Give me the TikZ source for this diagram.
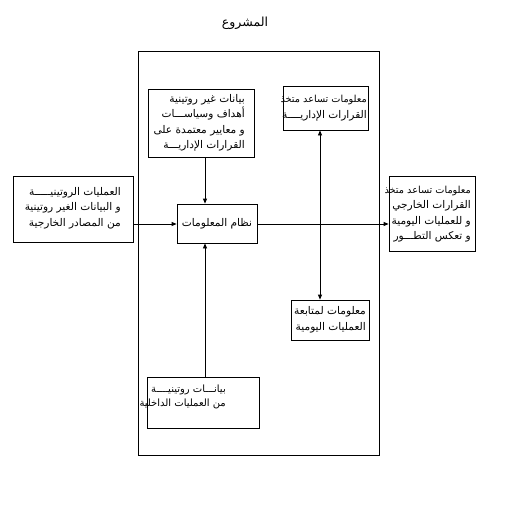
\documentclass[tikz,border=0pt]{standalone}
\usepackage{fontspec}
\newfontfamily\arabicfont[Script=Arabic]{DejaVu Sans}
\TeXXeTstate=1
\newcommand{\ar}[1]{{\arabicfont\beginR #1\endR}}
\newcommand{\arsm}[1]{{\fontsize{9.7}{15.5}\arabicfont\beginR #1\endR}}
\usetikzlibrary{arrows.meta}
\begin{document}
\begin{tikzpicture}[x=1pt,y=-1pt,
  box/.style={draw,line width=0.8pt,inner sep=0pt},
  txt/.style={font=\fontsize{10.6}{15.5}\arabicfont,align=right,anchor=east,inner sep=0pt},
  arr/.style={line width=0.8pt,-{Triangle[length=5pt,width=4pt]}}]
\useasboundingbox (0,0) rectangle (518,511);
\node[font=\fontsize{12.5}{14}\arabicfont] (title) at (245,23) {\ar{المشروع}};
\draw[line width=0.8pt] (138,51) rectangle (379,455);
% boxes
\node[box,minimum width=106pt,minimum height=68pt] (A) at (201,123) {};
\node[txt] (At) at (245,123) {\ar{بيانات غير روتينية}\\\ar{أهداف وسياســـات}\\\ar{و معايير معتمدة على}\\\ar{القرارات الإداريـــة}};
\node[box,minimum width=85pt,minimum height=44pt] (B) at (325.5,108) {};
\node[txt] (Bt) at (367,108) {\arsm{معلومات تساعد متخذ}\\\ar{القرارات الإداريــــة}};
\node[box,minimum width=120pt,minimum height=66pt] (L) at (73,209) {};
\node[txt] (Lt) at (121,208) {\ar{العمليات الروتينيـــــة}\\\ar{و البيانات الغير روتينية}\\\ar{من المصادر الخارجية}};
\node[box,minimum width=80pt,minimum height=39pt] (C) at (217,223.5) {};
\node[txt,anchor=center] (Ct) at (C.center) {\ar{نظام المعلومات}};
\node[box,minimum width=86pt,minimum height=75pt] (R) at (432,213.5) {};
\node[txt] (Rt) at (471,214) {\arsm{معلومات تساعد متخذ}\\\ar{القرارات الخارجي}\\\ar{و للعمليات اليومية}\\\ar{و تعكس التطـــور}};
\node[box,minimum width=78pt,minimum height=40pt] (D) at (330,320) {};
\node[txt] (Dt) at (366,320) {\ar{معلومات لمتابعة}\\\ar{العمليات اليومية}};
\node[box,minimum width=112pt,minimum height=51pt] (E) at (203,402.5) {};
\node[txt,font=\fontsize{10}{14}\arabicfont,anchor=north east] (Et) at (226,385) {\ar{بيانـــات روتينيــــة}\\\ar{من العمليات الداخلية}};
% connectors
\draw[arr] (A.south -| 205,0) -- (C.north -| 205,0);
\draw[arr] (L.east |- 0,224) -- (C.west |- 0,224);
\draw[arr] (E.north -| 205,0) -- (C.south -| 205,0);
\draw[arr] (C.east |- 0,224) -- (R.west |- 0,224);
\draw[arr,{Triangle[length=5pt,width=4pt]}-{Triangle[length=5pt,width=4pt]}] (B.south -| 320,0) -- (D.north -| 320,0);
\end{tikzpicture}
\end{document}
